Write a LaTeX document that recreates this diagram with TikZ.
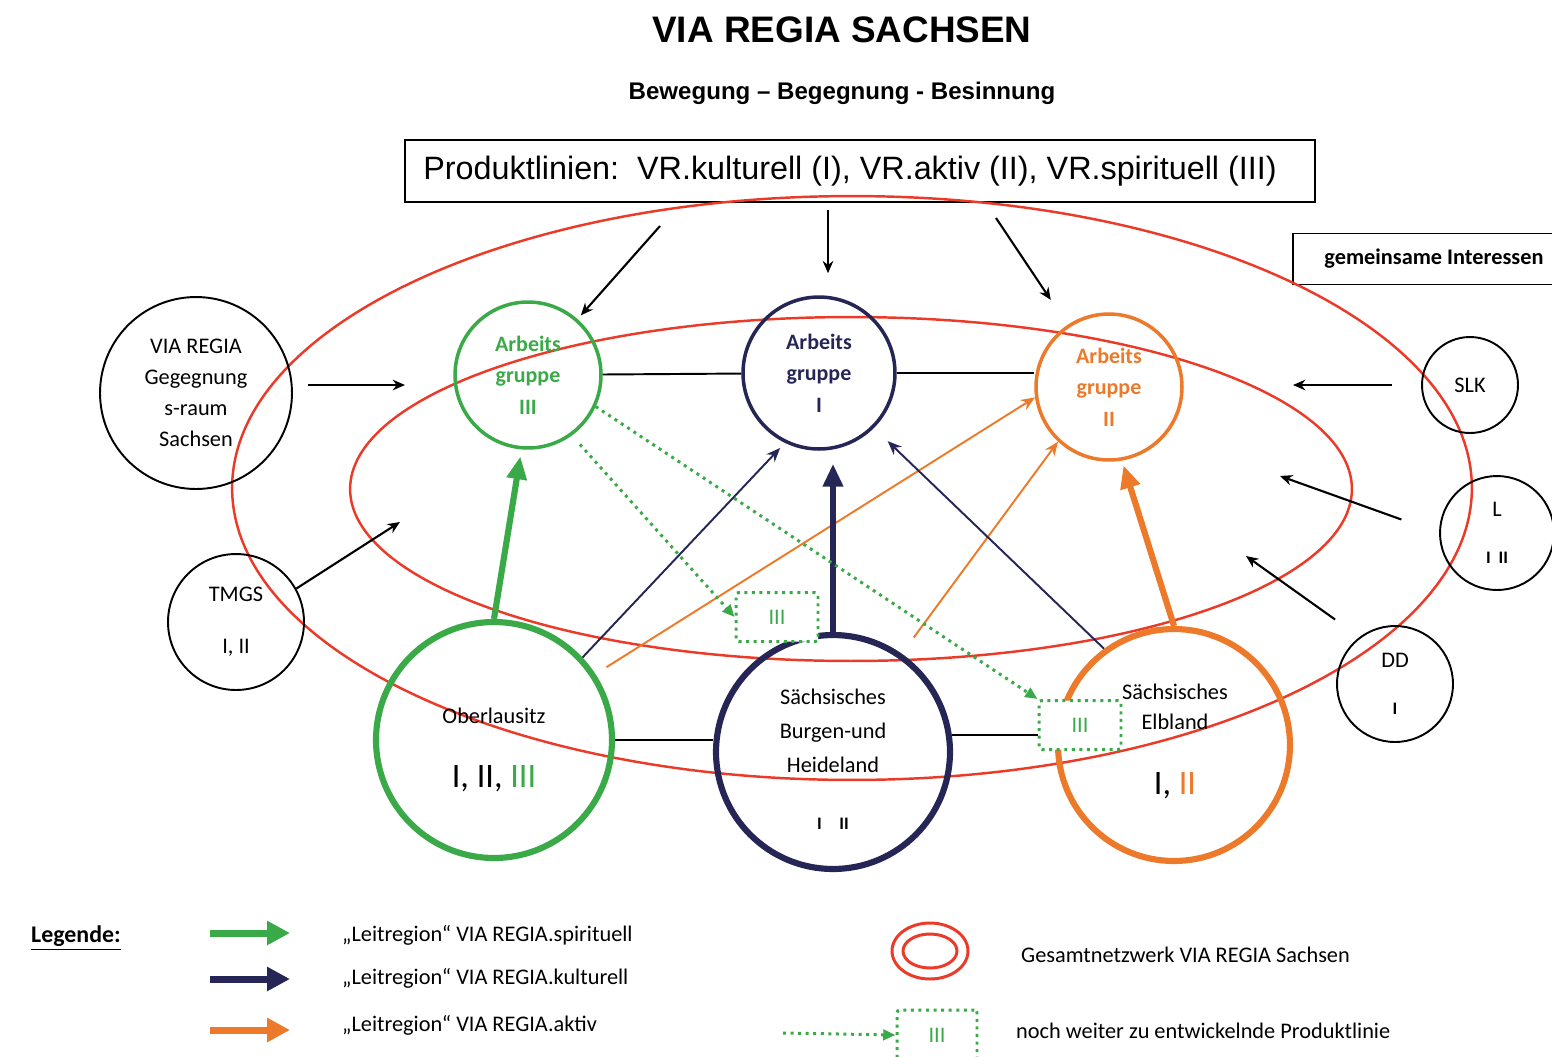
\documentclass[tikz,border=0pt]{standalone}
\usepackage{fontspec}
\setmainfont{Carlito}
\newfontfamily\arialfont{Liberation Sans}
\usetikzlibrary{arrows.meta,positioning}

\definecolor{vrgreen}{RGB}{58,170,72}
\definecolor{vrnavy}{RGB}{38,38,86}
\definecolor{vrorange}{RGB}{236,122,42}
\definecolor{vrred}{RGB}{236,58,40}

\newcommand{\bignum}{\fontsize{19.5}{20}\selectfont}
\newcommand{\smallnum}{\bfseries\fontsize{10}{11}\selectfont}

\tikzset{
  txt/.style={font=\fontsize{12.7}{17.6}\selectfont, align=center},
  circ/.style={circle, draw, line width=1.1pt, inner sep=0pt, txt},
  ag/.style={circle, draw=#1, text=#1, line width=2pt, inner sep=0pt, align=center,
    font=\bfseries\fontsize{12.5}{18}\selectfont},
  region/.style={circle, draw=#1, line width=3.5pt, inner sep=0pt},
  net/.style={draw=vrred, line width=1.4pt},
  arr/.style={-{Stealth[length=7pt,width=6pt]}, line width=1.2pt},
  link/.style={draw=#1, line width=1.1pt, -{Stealth[length=8pt,width=6.5pt]}},
  lead/.style={draw=#1, line width=3.5pt, -{Triangle[length=13pt,width=11pt]}},
  legarrow/.style={draw=#1, line width=4pt, -{Triangle[length=13pt,width=13pt]}},
  todo/.style={draw=vrgreen, line width=1.7pt, dash pattern=on 1.7pt off 2.6pt,
    -{Triangle[length=7pt,width=6pt]}},
  todobox/.style={draw=vrgreen, line width=1.7pt, dash pattern=on 1.7pt off 2.6pt,
    fill=white, text=vrgreen, rounded corners=1.5pt, minimum width=1.64cm,
    minimum height=0.98cm, font=\fontsize{12.7}{15}\selectfont},
}

\begin{document}
\begin{tikzpicture}[x=0.02cm, y=-0.02cm]
\useasboundingbox (0,0) rectangle (1552,1056);

% head
\node[font=\arialfont\bfseries\fontsize{21}{25}\selectfont] (title) at (842,30) {VIA REGIA SACHSEN};
\node[font=\arialfont\bfseries\fontsize{13.7}{16}\selectfont] (motto) at (842,93) {Bewegung – Begegnung - Besinnung};
\node[draw, line width=1.1pt, minimum width=18.22cm, minimum height=1.24cm,
  font=\arialfont\fontsize{18.4}{22}\selectfont] (prod) at (860,171)
  {Produktlinien:\ \ VR.kulturell (I), VR.aktiv (II), VR.spirituell (III)\hspace*{0.4cm}};
\node[draw, line width=1.1pt, minimum width=5.66cm, minimum height=1.02cm,
  font=\bfseries\fontsize{12.7}{15}\selectfont] (gem) at (1434,259) {gemeinsame Interessen};

% network
\draw[net] (852,488) ellipse [x radius=12.4cm, y radius=5.84cm];
\draw[net] (851,489) ellipse [x radius=10.02cm, y radius=3.44cm];

% partners
\node[circ, minimum size=3.84cm] (via) at (196,393) {VIA REGIA\\Gegegnung\\s-raum\\Sachsen};
\node[circ, minimum size=2.72cm] (tmgs) at (236,622) {TMGS\\[12pt]I, II};
\node[circ, minimum size=1.92cm] (slk) at (1470,385) {SLK};
\node[circ, minimum size=2.28cm] (l) at (1497,533) {L\\[9pt]{\smallnum I\ \ II}};
\node[circ, minimum size=2.32cm] (dd) at (1395,684) {DD\\[9pt]{\smallnum I}};

% working groups
\node[ag=vrgreen, minimum size=2.92cm] (ag3) at (528,375) {Arbeits\\gruppe\\III};
\node[ag=vrnavy, minimum size=3.04cm] (ag1) at (819,373) {Arbeits\\gruppe\\I};
\node[ag=vrorange, minimum size=2.92cm] (ag2) at (1109,387) {Arbeits\\gruppe\\II};

% regions
\node[region=vrgreen, minimum size=4.72cm] (ob) at (494,740) {};
\node[txt] (ob-txt) at (494,750) {Oberlausitz\\[19pt]{\bignum I, II, \textcolor{vrgreen}{III}}};
\node[region=vrnavy, minimum size=4.68cm] (bh) at (833,752) {};
\node[txt, font=\fontsize{12.7}{19.3}\selectfont] (bh-txt) at (833,759) {Sächsisches\\Burgen-und\\Heideland\\[13pt]{\smallnum I\quad II}};
\node[region=vrorange, minimum size=4.64cm] (el) at (1174,745) {};
\node[txt, font=\fontsize{12.7}{17}\selectfont] (el-txt) at (1175,741) {Sächsisches\\Elbland\\[20pt]{\bignum I, \textcolor{vrorange}{II}}};

\node[todobox] (box1) at (777,617) {III};
\node[todobox] (box2) at (1080,725) {III};

% plain links
\draw[line width=1.1pt] (ag3) -- (ag1);
\draw[line width=1.1pt] (ag1.east) -- (ag1.east -| ag2.west);
\draw[line width=1.1pt] (ob.east) -- (ob.east -| bh.west);
\draw[line width=1.1pt] (bh.8) -- (bh.8 -| box2.west);

% product lines to groups
\coordinate (p1) at (660,226);
\coordinate (p2) at (828,210);
\coordinate (p3) at (996,218);
\draw[arr, shorten >=0.1cm] (p1) -- (ag3);
\draw[arr, shorten >=0.44cm] (p2) -- (p2 |- ag1.north);
\draw[arr, shorten >=0.6cm] (p3) -- (ag2);

% partners into network
\coordinate (in-w) at (405,385);
\coordinate (in-sw) at (400,522);
\coordinate (in-e) at (1293,385);
\coordinate (in-e2) at (1280,476);
\coordinate (in-se) at (1246,556);
\draw[arr, shorten <=0.3cm] (via.east |- in-w) -- (in-w);
\draw[arr] (tmgs.29) -- (in-sw);
\draw[arr, shorten <=0.58cm] (slk.west |- in-e) -- (in-e);
\draw[arr, shorten <=0.8cm] (l.west) -- (in-e2);
\draw[arr, shorten <=0.6cm] (dd.127) -- (in-se);

% lead regions
\draw[lead=vrgreen, shorten >=0.14cm] (ob.north) -- (ag3.265);
\draw[link=vrnavy, shorten >=0.14cm] (ob.43) -- (ag1.244);
\draw[link=vrorange, shorten <=0.26cm] (ob.33) -- (ag2.188);
\draw[lead=vrnavy, shorten >=0.26cm] (bh.north) -- (bh.north |- ag1.south);
\draw[link=vrorange, shorten <=0.4cm] (bh.55) -- (ag2.227);
\draw[link=vrnavy, shorten >=0.38cm] (el.126) -- (ag1.315);
\draw[lead=vrorange, shorten >=0.1cm] (el.north) -- (ag2.280);
\draw[todo] (ag3.335) -- (box2.north west);
\draw[todo, shorten <=0.24cm] (ag3.306) -- (box1.west);

% legend
\node[font=\bfseries\fontsize{13.6}{16}\selectfont] (leg) at (76,938) {\underline{Legende:}};
\node[txt, anchor=west] (lt1) at (336,935) {„Leitregion“ VIA REGIA.spirituell};
\node[txt, anchor=west] (lt2) at (336,978) {„Leitregion“ VIA REGIA.kulturell};
\node[txt, anchor=west] (lt3) at (336,1025) {„Leitregion“ VIA REGIA.aktiv};
\coordinate (lg1) at (210,933);
\coordinate (lg2) at (210,979);
\coordinate (lg3) at (210,1030);
\draw[legarrow=vrgreen, shorten >=0.92cm] (lg1) -- (lg1 -| lt1.west);
\draw[legarrow=vrnavy, shorten >=0.92cm] (lg2) -- (lg2 -| lt2.west);
\draw[legarrow=vrorange, shorten >=0.92cm] (lg3) -- (lg3 -| lt3.west);

\draw[net, line width=1.7pt] (930,951) ellipse [x radius=0.76cm, y radius=0.56cm]
  (930,951) ellipse [x radius=0.54cm, y radius=0.34cm];
\node[txt, anchor=west] (lt4) at (1015,955) {Gesamtnetzwerk VIA REGIA Sachsen};
\node[todobox, minimum width=1.6cm, minimum height=1cm] (box3) at (937,1035) {III};
\coordinate (lg4) at (783,1033);
\draw[todo] (lg4) -- (box3.west);
\node[txt, anchor=west] (lt5) at (1010,1031) {noch weiter zu entwickelnde Produktlinie};
\end{tikzpicture}
\end{document}
